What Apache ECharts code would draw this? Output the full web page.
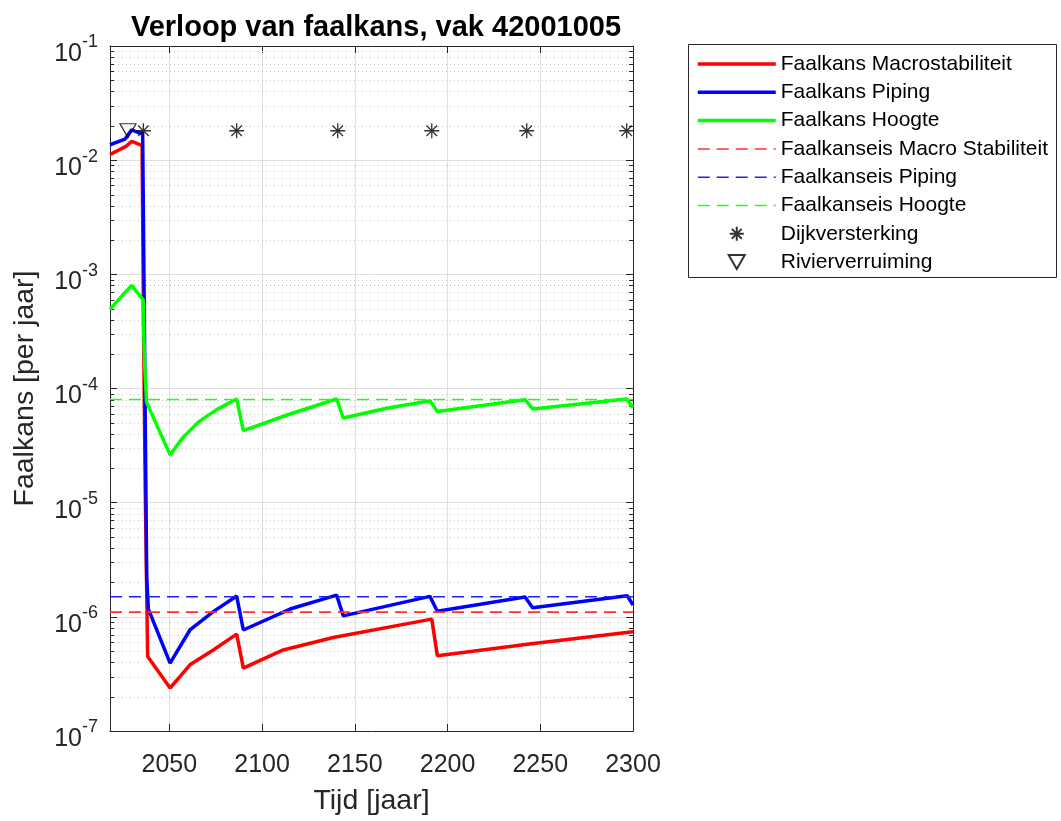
<!DOCTYPE html>
<html>
<head>
<meta charset="utf-8">
<title>Verloop van faalkans</title>
<script src="https://cdn.jsdelivr.net/npm/echarts@6/dist/echarts.min.js"></script>
<style>
  html, body { margin: 0; padding: 0; background: #fff; }
  #chart { width: 1061px; height: 821px; }
</style>
</head>
<body>
<div id="chart"></div>
<script>
// years on the x axis, failure probability per year on the log y axis
const macroYears = [2018, 2026.6, 2029.7, 2034.2, 2035.3, 2036.2, 2037.0, 2038.3, 2050.4, 2055.7, 2061.1, 2073.7, 2086.3, 2089.9, 2111.4, 2138.4, 2191.5, 2194.5, 2246.3, 2300];
const macroValues = [1.12e-2, 1.32e-2, 1.46e-2, 1.365e-2, 1.346e-2, 2.2e-4, 1.3e-5, 4.5e-7, 2.38e-7, 3.0e-7, 3.8e-7, 5.13e-7, 7.05e-7, 3.55e-7, 5.13e-7, 6.6e-7, 9.55e-7, 4.57e-7, 5.85e-7, 7.4e-7];

const pipingYears = [2018, 2026.1, 2029.7, 2033.8, 2035.6, 2036.9, 2037.8, 2038.7, 2050.4, 2061.1, 2073.7, 2086.3, 2089.9, 2115.1, 2140.2, 2143.8, 2190.5, 2194.5, 2241.8, 2245.9, 2296.9, 2300];
const pipingValues = [1.365e-2, 1.53e-2, 1.845e-2, 1.73e-2, 1.73e-2, 8.1e-5, 2.2e-6, 1.17e-6, 3.93e-7, 7.67e-7, 1.11e-6, 1.52e-6, 7.67e-7, 1.17e-6, 1.55e-6, 1.02e-6, 1.51e-6, 1.12e-6, 1.49e-6, 1.2e-6, 1.53e-6, 1.27e-6];

const hoogteYears = [2018, 2025.2, 2029.7, 2035.9, 2036.0, 2036.8, 2037.7, 2050.4, 2057.5, 2065.6, 2075.5, 2086.3, 2089.9, 2115.1, 2140.2, 2143.8, 2167.2, 2190.5, 2194.5, 2241.8, 2245.9, 2296.6, 2300];
const hoogteValues = [4.94e-4, 6.68e-4, 8.0e-4, 5.97e-4, 3.8e-4, 1.48e-4, 7.6e-5, 2.62e-5, 3.75e-5, 5.07e-5, 6.53e-5, 8.09e-5, 4.28e-5, 5.98e-5, 8.09e-5, 5.52e-5, 6.71e-5, 7.8e-5, 6.3e-5, 7.98e-5, 6.62e-5, 8.09e-5, 6.8e-5];

// norm values (faalkanseis)
const eisMacro = 1.1e-6;
const eisPiping = 1.5e-6;
const eisHoogte = 8e-5;

// measures
const dijkYears = [2036, 2086.3, 2140.8, 2191.5, 2242.7, 2296.6];
const rivierYears = [2027.7];
const measureLevel = 0.0181;

const xMin = 2018;
const xMax = 2300;
const yMin = 1e-7;
const yMax = 1e-1;

const names = [
  "Faalkans Macrostabiliteit",
  "Faalkans Piping",
  "Faalkans Hoogte",
  "Faalkanseis Macro Stabiliteit",
  "Faalkanseis Piping",
  "Faalkanseis Hoogte",
  "Dijkversterking",
  "Rivierverruiming",
];

const FONT = "'Liberation Sans', Arial, Helvetica, sans-serif";
const AXIS_COLOR = "#262626";
const RED = "#ff0000";
const BLUE = "#0000ff";
const GREEN = "#00ff00";
const DASH = [12, 7];

const pairs = (xs, ys) => xs.map((x, i) => [x, ys[i]]);
const flat = (v) => [[xMin, v], [xMax, v]];

// minor log positions 2..9 per decade
const minorValues = [];
for (let e = -7; e < -1; e++) {
  for (let k = 2; k <= 9; k++) {
    minorValues.push([xMin, k * Math.pow(10, e)]);
  }
}

const asteriskPath =
  "path://M0,-1L0,1M-1,0L1,0M-0.707,-0.707L0.707,0.707M-0.707,0.707L0.707,-0.707";
const trianglePath = "path://M-1,-0.87L1,-0.87L0,0.87Z";

const chart = echarts.init(document.getElementById("chart"));

const solid = (name, data, color) => ({
  name,
  type: "line",
  data,
  symbol: "none",
  animation: false,
  lineStyle: { color, width: 3.5 },
  itemStyle: { color },
  z: 3,
});

const dashed = (name, value, color) => ({
  name,
  type: "line",
  data: flat(value),
  symbol: "none",
  animation: false,
  lineStyle: { color, width: 1.6, type: DASH },
  itemStyle: { color },
  z: 4,
});

// legend entries: line icons without the dot
const lineEntry = (name, color, width, type) => ({
  name,
  itemStyle: { opacity: 0 },
  lineStyle: { color, width, type, opacity: 1 },
});

const option = {
  animation: false,
  textStyle: { fontFamily: FONT },
  title: {
    text: "Verloop van faalkans, vak 42001005",
    left: 371,
    top: 8,
    textAlign: "center",
    textStyle: {
      fontFamily: FONT,
      fontSize: 29,
      fontWeight: "bold",
      color: "#000",
    },
  },
  legend: {
    orient: "vertical",
    left: 696,
    top: 53,
    padding: 0,
    itemWidth: 78,
    itemHeight: 14,
    itemGap: 6.3,
    selectedMode: false,
    data: [
      lineEntry(names[0], RED, 3.5, "solid"),
      lineEntry(names[1], BLUE, 3.5, "solid"),
      lineEntry(names[2], GREEN, 3.5, "solid"),
      lineEntry(names[3], "#ff3030", 1.5, DASH),
      lineEntry(names[4], "#2020ff", 1.5, DASH),
      lineEntry(names[5], "#20ff20", 1.5, DASH),
      names[6],
      names[7],
    ],
    textStyle: {
      fontFamily: FONT,
      fontSize: 21,
      lineHeight: 22,
      color: "#000",
    },
  },
  graphic: [
    {
      type: "rect",
      shape: { x: 688.5, y: 44.5, width: 368, height: 233 },
      style: { fill: "none", stroke: AXIS_COLOR, lineWidth: 1 },
      z: -1,
    },
  ],
  grid: { left: 110, top: 46, right: 428, bottom: 88 },
  xAxis: [
    {
      type: "value",
      min: xMin,
      max: xMax,
      splitNumber: 6,
      name: "Tijd [jaar]",
      nameLocation: "middle",
      nameGap: 56,
      nameTextStyle: { fontFamily: FONT, fontSize: 28.5, color: AXIS_COLOR },
      axisLine: { lineStyle: { color: AXIS_COLOR, width: 1 } },
      axisTick: { inside: true, length: 7, lineStyle: { color: AXIS_COLOR } },
      axisLabel: {
        margin: 22,
        fontFamily: FONT,
        fontSize: 25,
        color: AXIS_COLOR,
        formatter: (v) => (v % 50 === 0 ? String(v) : ""),
      },
      splitLine: { show: true, lineStyle: { color: "#dfdfdf", width: 1 } },
    },
    {
      type: "value",
      position: "top",
      min: xMin,
      max: xMax,
      splitNumber: 6,
      axisLine: { lineStyle: { color: AXIS_COLOR, width: 1 } },
      axisTick: { inside: true, length: 7, lineStyle: { color: AXIS_COLOR } },
      axisLabel: { show: false },
      splitLine: { show: false },
    },
  ],
  yAxis: [
    {
      type: "log",
      logBase: 10,
      min: yMin,
      max: yMax,
      splitNumber: 6,
      name: "Faalkans [per jaar]",
      nameLocation: "middle",
      nameGap: 70,
      nameTextStyle: { fontFamily: FONT, fontSize: 28.5, color: AXIS_COLOR },
      axisLine: { show: true, lineStyle: { color: AXIS_COLOR, width: 1 } },
      axisTick: { inside: true, length: 7, lineStyle: { color: AXIS_COLOR } },
      axisLabel: {
        margin: 12,
        color: AXIS_COLOR,
        formatter: (v) => {
          const e = Math.round(Math.log10(v));
          return "{base|10}{sup|" + e + "}";
        },
        rich: {
          base: {
            fontFamily: FONT,
            fontSize: 25,
            lineHeight: 25,
            color: AXIS_COLOR,
            padding: [16, 0, 0, 0],
          },
          sup: {
            fontFamily: FONT,
            fontSize: 18,
            lineHeight: 18,
            color: AXIS_COLOR,
            padding: [8, 0, 15, 0],
          },
        },
      },
      splitLine: { show: true, lineStyle: { color: "#dfdfdf", width: 1 } },
    },
    {
      type: "log",
      logBase: 10,
      position: "right",
      min: yMin,
      max: yMax,
      splitNumber: 6,
      axisLine: { show: true, lineStyle: { color: AXIS_COLOR, width: 1 } },
      axisTick: { inside: true, length: 7, lineStyle: { color: AXIS_COLOR } },
      axisLabel: { show: false },
      splitLine: { show: false },
    },
  ],
  series: [
    {
      // minor grid (dotted) and minor ticks on both y axes
      name: "minor",
      type: "custom",
      data: minorValues,
      silent: true,
      z: 1,
      renderItem: (params, api) => {
        const cs = params.coordSys;
        const y = Math.round(api.coord([xMin, api.value(1)])[1]) + 0.5;
        return {
          type: "group",
          children: [
            {
              type: "line",
              shape: { x1: cs.x, y1: y, x2: cs.x + cs.width, y2: y },
              style: { stroke: "#c4c4c4", lineWidth: 1, lineDash: [1, 3] },
            },
            {
              type: "line",
              shape: { x1: cs.x, y1: y, x2: cs.x + 4, y2: y },
              style: { stroke: AXIS_COLOR, lineWidth: 1 },
            },
            {
              type: "line",
              shape: { x1: cs.x + cs.width - 4, y1: y, x2: cs.x + cs.width, y2: y },
              style: { stroke: AXIS_COLOR, lineWidth: 1 },
            },
          ],
        };
      },
    },
    solid(names[0], pairs(macroYears, macroValues), RED),
    solid(names[1], pairs(pipingYears, pipingValues), BLUE),
    solid(names[2], pairs(hoogteYears, hoogteValues), GREEN),
    dashed(names[3], eisMacro, "#ff3030"),
    dashed(names[4], eisPiping, "#2020ff"),
    dashed(names[5], eisHoogte, "#20ff20"),
    {
      name: names[6],
      type: "scatter",
      data: dijkYears.map((y) => [y, measureLevel]),
      symbol: asteriskPath,
      symbolSize: 15,
      itemStyle: { color: "rgba(0,0,0,0)", borderColor: "#000", borderWidth: 1.3 },
      z: 5,
    },
    {
      name: names[7],
      type: "scatter",
      data: rivierYears.map((y) => [y, measureLevel]),
      symbol: trianglePath,
      symbolSize: [16, 14],
      itemStyle: { color: "rgba(0,0,0,0)", borderColor: "#000", borderWidth: 1.2 },
      z: 5,
    },
  ],
};

chart.setOption(option);
</script>
</body>
</html>
